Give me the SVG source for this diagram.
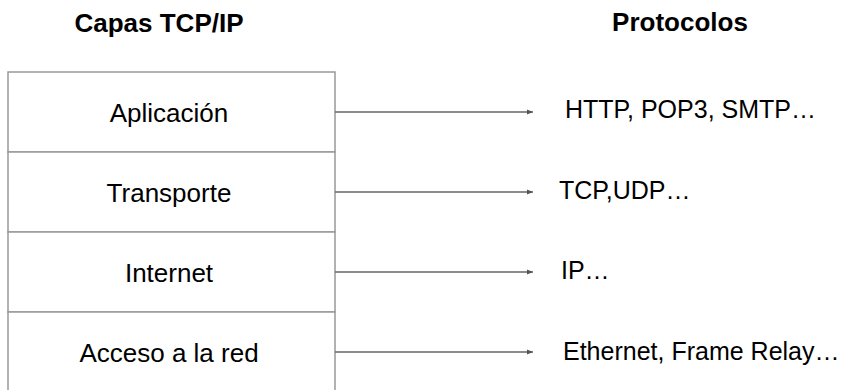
<svg xmlns="http://www.w3.org/2000/svg" width="849" height="390" viewBox="0 0 849 390">
<style>
text{font-family:"Liberation Sans",Arial,sans-serif;fill:#000}
.h{font-size:26px;font-weight:bold;text-anchor:middle}
.l{font-size:26px;text-anchor:middle}
.p{font-size:25px}
.box{fill:#fff;stroke:#999;stroke-width:1.5}
.c{stroke:#666;stroke-width:1.5;fill:none;marker-end:url(#ah)}
</style>
<defs>
<marker id="ah" viewBox="0 0 6 6" refX="6" refY="3" markerWidth="6" markerHeight="6" markerUnits="userSpaceOnUse" orient="auto">
<path d="M0,0.5 L6,3 L0,5.5 Z" fill="#555"/>
</marker>
</defs>
<text class="h" x="159" y="32">Capas TCP/IP</text>
<text class="h" x="680" y="31">Protocolos</text>
<g id="aplicacion"><rect class="box" x="8" y="72" width="327" height="80"/><text class="l" x="169" y="122">Aplicación</text></g>
<g id="transporte"><rect class="box" x="8" y="152" width="327" height="80"/><text class="l" x="169" y="202">Transporte</text></g>
<g id="internet"><rect class="box" x="8" y="232" width="327" height="80"/><text class="l" x="169" y="282">Internet</text></g>
<g id="acceso"><rect class="box" x="8" y="312" width="327" height="90"/><text class="l" x="169" y="362">Acceso a la red</text></g>
<g id="p1"><text class="p" x="565" y="118">HTTP, POP3, SMTP…</text></g>
<g id="p2"><text class="p" x="559" y="199">TCP,UDP…</text></g>
<g id="p3"><text class="p" x="561" y="279">IP…</text></g>
<g id="p4"><text class="p" x="563" y="360">Ethernet, Frame Relay…</text></g>
<g id="connectors">
<line class="c" x1="335" y1="112" x2="533" y2="112"/>
<line class="c" x1="335" y1="192" x2="533" y2="192"/>
<line class="c" x1="335" y1="272" x2="533" y2="272"/>
<line class="c" x1="335" y1="352" x2="533" y2="352"/>
</g>
</svg>
